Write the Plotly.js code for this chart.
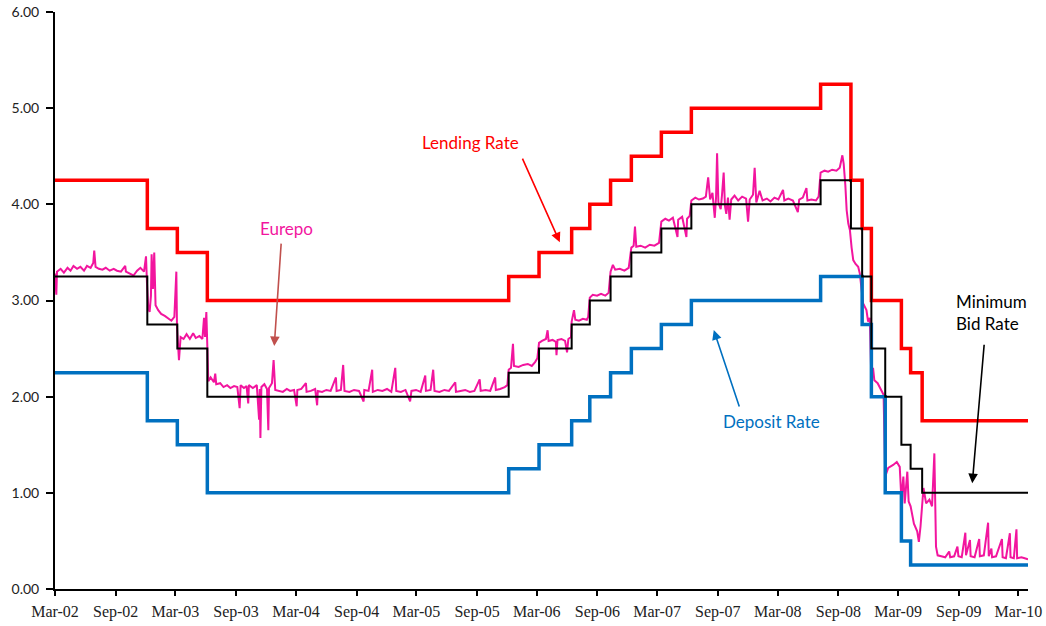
<!DOCTYPE html>
<html>
<head>
<meta charset="utf-8">
<script src="https://cdn.plot.ly/plotly-3.0.1.min.js"></script>
<style>html,body{margin:0;padding:0;background:#fff;}#chart{width:1046px;height:626px;}</style>
</head>
<body>
<div id="chart"></div>
<script>
// Policy rate change dates and levels (step series)
const policyDates = ['2002-03-01','2002-12-06','2003-03-07','2003-06-06','2005-12-06','2006-03-08','2006-06-15','2006-08-09','2006-10-11','2006-12-13','2007-03-14','2007-06-13','2008-07-09','2008-10-09','2008-11-12','2008-12-10','2009-01-21','2009-03-11','2009-04-08','2009-05-13','2010-03-30'];
const lendingRate = [4.25,3.75,3.50,3.00,3.25,3.50,3.75,4.00,4.25,4.50,4.75,5.00,5.25,4.25,3.75,3.00,3.00,2.50,2.25,1.75,1.75];
const depositRate = [2.25,1.75,1.50,1.00,1.25,1.50,1.75,2.00,2.25,2.50,2.75,3.00,3.25,3.25,2.75,2.00,1.00,0.50,0.25,0.25,0.25];
const minBidRate  = [3.25,2.75,2.50,2.00,2.25,2.50,2.75,3.00,3.25,3.50,3.75,4.00,4.25,3.75,3.25,2.50,2.00,1.50,1.25,1.00,1.00];

// Eurepo
const eurepoDates = [
'2002-03-01','2002-03-05','2002-03-07','2002-03-18','2002-03-28','2002-04-08','2002-04-17','2002-04-26','2002-05-07','2002-05-17','2002-05-28','2002-06-06','2002-06-17','2002-06-25','2002-06-28','2002-07-02','2002-07-12','2002-07-23','2002-08-02','2002-08-14','2002-08-26','2002-09-05','2002-09-17','2002-09-30','2002-10-02','2002-10-14','2002-10-25','2002-11-05','2002-11-15','2002-11-26','2002-12-02','2002-12-05','2002-12-09','2002-12-13','2002-12-17','2002-12-19','2002-12-23','2002-12-27','2002-12-31',
'2003-01-08','2003-01-17','2003-01-28','2003-02-06','2003-02-17','2003-02-26','2003-03-04','2003-03-06','2003-03-10','2003-03-12','2003-03-17','2003-03-26','2003-04-04','2003-04-14','2003-04-24','2003-05-02','2003-05-13','2003-05-22','2003-05-27','2003-05-30','2003-06-03','2003-06-05','2003-06-09','2003-06-16','2003-06-26','2003-06-30','2003-07-03','2003-07-15','2003-07-25','2003-08-05','2003-08-15','2003-08-26','2003-09-05','2003-09-12','2003-09-15','2003-09-25','2003-10-03','2003-10-08','2003-10-10','2003-10-22','2003-11-03','2003-11-10','2003-11-12','2003-11-14','2003-11-17','2003-11-26','2003-12-04','2003-12-08','2003-12-10','2003-12-19','2003-12-24','2003-12-29',
'2004-01-09','2004-01-21','2004-02-02','2004-02-12','2004-02-24','2004-03-03','2004-03-05','2004-03-17','2004-03-31','2004-04-02','2004-04-15','2004-04-28','2004-05-04','2004-05-06','2004-05-19','2004-06-01','2004-06-14','2004-06-30','2004-07-02','2004-07-15','2004-07-22','2004-07-26','2004-08-10','2004-08-24','2004-09-08','2004-09-22','2004-09-24','2004-10-07','2004-10-18','2004-10-20','2004-11-04','2004-11-18','2004-12-02','2004-12-15','2004-12-27','2004-12-30',
'2005-01-13','2005-01-27','2005-02-10','2005-02-14','2005-02-28','2005-03-14','2005-03-28','2005-03-30','2005-04-13','2005-04-21','2005-04-25','2005-05-10','2005-05-25','2005-06-08','2005-06-27','2005-06-29','2005-07-13','2005-07-27','2005-08-10','2005-08-24','2005-09-09','2005-09-12','2005-09-27','2005-10-11','2005-10-26','2005-10-28','2005-11-10','2005-11-24','2005-12-02','2005-12-06','2005-12-13','2005-12-19','2005-12-22',
'2006-01-05','2006-01-19','2006-02-02','2006-02-14','2006-02-24','2006-03-03','2006-03-08','2006-03-17','2006-03-29','2006-04-03','2006-04-06','2006-04-18','2006-04-28','2006-04-30','2006-05-03','2006-05-15','2006-05-26','2006-06-01','2006-06-05','2006-06-13','2006-06-15','2006-06-22','2006-06-26','2006-07-07','2006-07-19','2006-07-31','2006-08-04','2006-08-09','2006-08-18','2006-08-31','2006-09-12','2006-09-25','2006-10-05','2006-10-11','2006-10-18','2006-10-25','2006-11-08','2006-11-22','2006-12-05','2006-12-13','2006-12-20','2006-12-24','2006-12-28',
'2007-01-10','2007-01-24','2007-02-07','2007-02-21','2007-03-07','2007-03-14','2007-03-26','2007-04-06','2007-04-18','2007-05-02','2007-05-04','2007-05-16','2007-05-29','2007-05-31','2007-06-08','2007-06-13','2007-06-25','2007-07-06','2007-07-18','2007-07-27','2007-08-03','2007-08-09','2007-08-16','2007-08-23','2007-08-27','2007-08-30','2007-09-03','2007-09-10','2007-09-14','2007-09-19','2007-09-23','2007-09-27','2007-10-02','2007-10-07','2007-10-12','2007-10-22','2007-11-02','2007-11-14','2007-11-26','2007-12-02','2007-12-07','2007-12-17','2007-12-22','2007-12-27',
'2008-01-06','2008-01-15','2008-01-28','2008-02-08','2008-02-20','2008-03-03','2008-03-17','2008-03-21','2008-04-02','2008-04-16','2008-05-01','2008-05-05','2008-05-16','2008-05-27','2008-05-30','2008-06-11','2008-06-25','2008-07-03','2008-07-09','2008-07-21','2008-08-01','2008-08-13','2008-08-26','2008-09-05','2008-09-13','2008-09-17','2008-09-22','2008-09-26','2008-10-01','2008-10-06','2008-10-11','2008-10-16','2008-10-23','2008-10-31','2008-11-05','2008-11-12','2008-11-15','2008-11-25','2008-11-30','2008-12-05','2008-12-10','2008-12-15','2008-12-19','2008-12-29',
'2009-01-08','2009-01-16','2009-01-21','2009-01-30','2009-02-14','2009-02-25','2009-03-06','2009-03-11','2009-03-17','2009-03-21','2009-03-29','2009-04-02','2009-04-08','2009-04-18','2009-04-28','2009-05-03','2009-05-08','2009-05-13','2009-05-17','2009-05-25','2009-06-04','2009-06-12','2009-06-19','2009-06-24','2009-06-29','2009-07-10','2009-07-22','2009-08-03','2009-08-06','2009-08-18','2009-08-28','2009-08-31','2009-09-10','2009-09-21','2009-09-23','2009-10-05','2009-10-07','2009-10-19','2009-11-02','2009-11-04','2009-11-16','2009-11-29','2009-12-01','2009-12-09','2009-12-11','2009-12-23',
'2010-01-10','2010-01-12','2010-01-22','2010-02-03','2010-02-05','2010-02-15','2010-02-23','2010-02-25','2010-03-10','2010-03-20','2010-03-30'
];
const eurepoRates = [
3.28,3.06,3.30,3.33,3.29,3.34,3.31,3.36,3.33,3.35,3.31,3.36,3.34,3.39,3.52,3.35,3.33,3.32,3.34,3.31,3.33,3.31,3.30,3.36,3.30,3.28,3.26,3.31,3.34,3.30,3.46,3.18,2.92,2.88,3.05,3.48,3.12,3.50,2.95,
2.90,2.86,2.84,2.82,2.79,2.83,3.30,2.72,2.55,2.38,2.62,2.60,2.65,2.60,2.66,2.61,2.63,2.60,2.82,2.62,2.88,2.68,2.16,2.20,2.15,2.24,2.13,2.14,2.10,2.12,2.09,2.11,2.10,1.88,2.12,2.09,2.11,1.93,2.12,2.09,2.12,1.76,2.08,1.57,2.10,2.13,2.08,1.65,2.09,2.14,2.38,2.07,
2.06,2.05,2.08,2.06,2.07,1.90,2.07,2.08,2.14,2.05,2.06,2.08,1.91,2.06,2.05,2.07,2.06,2.20,2.06,2.07,2.33,2.06,2.05,2.07,2.06,1.95,2.07,2.06,2.28,2.05,2.07,2.06,2.08,2.05,2.30,2.06,
2.05,2.07,1.95,2.06,2.07,2.05,2.22,2.06,2.07,2.28,2.06,2.05,2.07,2.06,2.15,2.05,2.06,2.07,2.05,2.06,2.18,2.06,2.07,2.06,2.20,2.07,2.08,2.10,2.12,2.28,2.30,2.55,2.32,
2.31,2.33,2.34,2.32,2.36,2.40,2.56,2.58,2.60,2.69,2.58,2.59,2.57,2.43,2.59,2.60,2.58,2.46,2.60,2.62,2.78,2.90,2.80,2.79,2.81,2.80,2.83,3.03,3.06,3.05,3.07,3.05,3.08,3.30,3.37,3.32,3.33,3.31,3.34,3.55,3.57,3.77,3.56,
3.57,3.55,3.58,3.57,3.60,3.82,3.85,3.83,3.86,3.66,3.84,3.87,3.66,3.85,3.88,4.04,4.07,4.05,4.06,4.08,4.28,4.05,4.12,3.86,4.08,4.53,4.02,3.95,4.10,4.33,3.98,3.90,4.07,3.84,4.05,4.09,4.04,4.08,4.06,3.82,4.05,4.10,4.38,4.02,
4.14,4.04,4.06,4.03,4.07,4.05,4.15,4.04,4.06,4.04,3.92,4.05,4.07,4.17,4.04,4.05,4.04,4.08,4.33,4.35,4.34,4.36,4.35,4.38,4.51,4.42,4.20,3.94,3.80,3.73,3.55,3.42,3.38,3.35,3.28,3.05,2.97,2.90,2.78,2.82,2.17,2.30,2.17,2.14,
2.07,2.02,1.17,1.26,1.29,1.32,1.27,0.93,1.17,0.89,1.22,0.91,0.86,0.68,0.60,0.49,0.65,0.86,1.05,0.89,0.93,0.86,1.41,0.44,0.35,0.34,0.33,0.39,0.33,0.34,0.44,0.34,0.33,0.585,0.35,0.51,0.34,0.33,0.52,0.34,0.35,0.69,0.34,0.42,0.33,0.34,
0.52,0.33,0.32,0.58,0.33,0.32,0.62,0.32,0.33,0.32,0.31
];

// Axis ticks
const yTicks = [0,1,2,3,4,5,6];
const xTickDates = ['2002-03-01','2002-09-01','2003-03-01','2003-09-01','2004-03-01','2004-09-01','2005-03-01','2005-09-01','2006-03-01','2006-09-01','2007-03-01','2007-09-01','2008-03-01','2008-09-01','2009-03-01','2009-09-01','2010-03-01'];
const xTickLabels = ['Mar-02','Sep-02','Mar-03','Sep-03','Mar-04','Sep-04','Mar-05','Sep-05','Mar-06','Sep-06','Mar-07','Sep-07','Mar-08','Sep-08','Mar-09','Sep-09','Mar-10'];

const traces = [
  {x: eurepoDates, y: eurepoRates, mode:'lines', name:'Eurepo', line:{color:'#F2159E', width:2}},
  {x: policyDates, y: depositRate, mode:'lines', name:'Deposit Rate', line:{color:'#0070C0', width:3.5, shape:'hv'}},
  {x: policyDates, y: lendingRate, mode:'lines', name:'Lending Rate', line:{color:'#FF0000', width:3.5, shape:'hv'}},
  {x: policyDates, y: minBidRate, mode:'lines', name:'Minimum Bid Rate', line:{color:'#000000', width:2, shape:'hv'}}
];

const annFont = {family:'Lato, "Open Sans", sans-serif', size:17};
const layout = {
  width:1046, height:626,
  margin:{l:55, r:18, t:12, b:37},
  paper_bgcolor:'#fff', plot_bgcolor:'#fff',
  showlegend:false,
  xaxis:{type:'date', range:['2002-03-01','2010-03-30'], tickvals:xTickDates, ticktext:xTickLabels,
    ticks:'outside', ticklen:5, tickwidth:2, tickcolor:'#000', showline:true, linecolor:'#000', linewidth:2,
    showgrid:false, zeroline:false, ticklabelstandoff:2,
    tickfont:{family:'Liberation Serif, DejaVu Serif, serif', size:16, color:'#222'}},
  yaxis:{range:[0,6], tickvals:yTicks, tickformat:'.2f', ticks:'outside', ticklen:7, tickwidth:2, tickcolor:'#000',
    showline:true, linecolor:'#000', linewidth:2, showgrid:false, zeroline:false, ticklabelstandoff:4,
    tickfont:{family:'Lato, "Open Sans", sans-serif', size:14, color:'#222'}},
  annotations:[
    {x:'2005-08-12', y:4.64, text:'Lending Rate', showarrow:false, font:Object.assign({color:'#FF0000'},annFont)},
    {x:'2006-05-10', y:3.607, ax:-38, ay:-85, text:'', showarrow:true, arrowcolor:'#FF0000', arrowwidth:1.6, arrowhead:2, arrowsize:1.2},
    {x:'2004-02-01', y:3.75, text:'Eurepo', showarrow:false, font:Object.assign({color:'#F2159E'},annFont)},
    {x:'2003-12-26', y:2.526, ax:7, ay:-104, text:'', showarrow:true, arrowcolor:'#C0504D', arrowwidth:1.6, arrowhead:2, arrowsize:1.2},
    {x:'2008-02-10', y:1.746, text:'Deposit Rate', showarrow:false, font:Object.assign({color:'#0070C0'},annFont)},
    {x:'2007-08-20', y:2.692, ax:26, ay:78, text:'', showarrow:true, arrowcolor:'#0070C0', arrowwidth:1.6, arrowhead:2, arrowsize:1.2},
    {x:'2009-08-17', y:2.88, xanchor:'left', text:'Minimum<br>Bid Rate', showarrow:false, align:'left', font:Object.assign({color:'#000'},annFont)},
    {x:'2009-10-12', y:1.10, ax:12, ay:-140, text:'', showarrow:true, arrowcolor:'#000', arrowwidth:1.6, arrowhead:2, arrowsize:1.2}
  ]
};
Plotly.newPlot('chart', traces, layout, {displayModeBar:false, staticPlot:true});
</script>
</body>
</html>
